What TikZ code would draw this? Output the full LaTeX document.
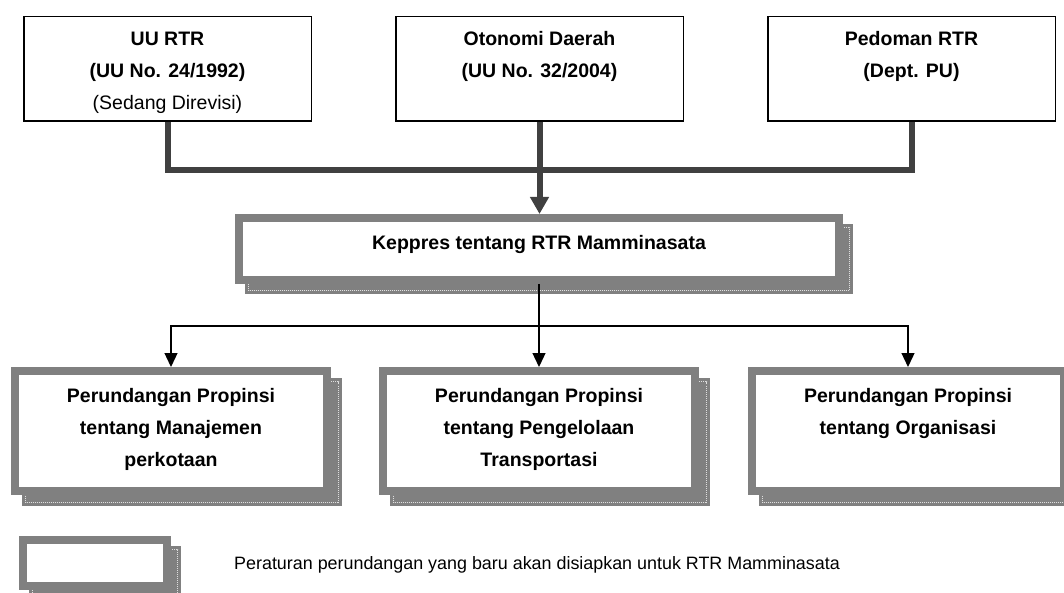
\documentclass[tikz,border=0pt]{standalone}
\usepackage{fontspec}
\setmainfont{Liberation Sans}
\usetikzlibrary{arrows.meta,calc,backgrounds}
\begin{document}
\begin{tikzpicture}[x=1pt,y=-1pt,
  topbox/.style={draw=black,line width=1.5pt,fill=white,minimum width=287.5pt,minimum height=104.5pt,inner sep=0pt},
  framebox/.style={draw=gray,fill=white,line width=8pt,inner sep=0pt,outer sep=4pt},
  txt/.style={inner sep=0pt,align=center,anchor=north,font=\fontsize{19.5}{32}\selectfont\bfseries},
  legtxt/.style={inner sep=0pt,anchor=base west,font=\fontsize{17.9}{32}\selectfont},
  heavy/.style={draw=black!75,line width=6pt},
  light/.style={draw=black,line width=1.3pt},
  shadowfill/.style={fill=gray},
  shadowline/.style={draw=gray!25,line width=0.6pt,dash pattern=on 1pt off 1pt}
]
\useasboundingbox (0,0) rectangle (1064,593);

% top boxes
\node[topbox] (T1) at (167.5,69) {};
\node[topbox] (T2) at (539.5,69) {};
\node[topbox] (T3) at (911.5,69) {};
\node[txt] (t1) at ([yshift=-6.6pt]T1.north) {\strut UU RTR\\(UU No. 24/1992)\\{\mdseries (Sedang Direvisi)}};
\node[txt] (t2) at ([yshift=-6.6pt]T2.north) {\strut Otonomi Daerah\\(UU No. 32/2004)};
\node[txt] (t3) at ([yshift=-6.6pt]T3.north) {\strut Pedoman RTR\\(Dept. PU)};

% keppres
\node[framebox,minimum width=600pt,minimum height=62pt] (K) at (539,249) {};
\node[txt] (k) at ([yshift=-12.6pt]K.north) {\strut Keppres tentang RTR Mamminasata};

% bottom boxes
\node[framebox,minimum width=312pt,minimum height=120pt] (A) at (171,431) {};
\node[framebox,minimum width=312pt,minimum height=120pt] (B) at (539,431) {};
\node[framebox,minimum width=312pt,minimum height=120pt] (C) at (908,431) {};
\node[txt] (a) at ([yshift=-12.6pt]A.north) {\strut Perundangan Propinsi\\tentang Manajemen\\perkotaan};
\node[txt] (b) at ([yshift=-12.6pt]B.north) {\strut Perundangan Propinsi\\tentang Pengelolaan\\Transportasi};
\node[txt] (c) at ([yshift=-12.6pt]C.north) {\strut Perundangan Propinsi\\tentang Organisasi};

% legend
\node[framebox,minimum width=144pt,minimum height=46pt] (L) at (95,563) {};
\node[legtxt] (l) at (234,569.5) {Peraturan perundangan yang baru akan disiapkan untuk RTR Mamminasata};

% shadows
\begin{pgfonlayer}{background}
  \fill[white] (0,0) rectangle (1064,593);
  \foreach \n/\d in {K/10,A/11,B/11,C/11,L/10}{
    \fill[shadowfill] ($(\n.north west)+(\d,\d)$) rectangle ($(\n.south east)+(\d,\d)$);
    \draw[shadowline] ($(\n.north west)+(\d+3.5,\d+3.5)$) rectangle ($(\n.south east)+(\d-3.5,\d-3.5)$);
  }
\end{pgfonlayer}

% heavy connectors
\coordinate (hubtop) at (539.5,170);
\draw[heavy] (T1.south) |- (hubtop) -| (T3.south);
\draw[heavy,-{Triangle[width=18pt,length=17pt]}] (T2.south) -- (T2.south |- K.north);

% light connectors
\coordinate (hub) at (539,326);
\draw[light] (K.south) -- (hub);
\draw[light,-{Triangle[width=13pt,length=14pt]}] (hub) -| (A.north);
\draw[light,-{Triangle[width=13pt,length=14pt]}] (hub) -- (B.north);
\draw[light,-{Triangle[width=13pt,length=14pt]}] (hub) -| (C.north);
\end{tikzpicture}
\end{document}
